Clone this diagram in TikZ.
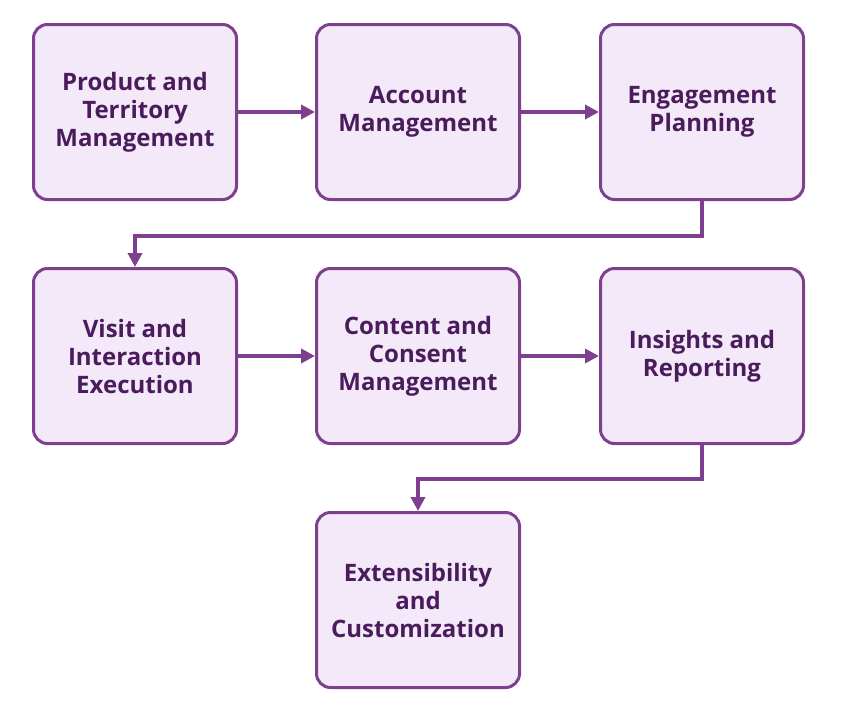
\documentclass[tikz,border=0pt]{standalone}
\usepackage{fontspec}
\setmainfont{Open Sans}
\usetikzlibrary{arrows.meta}
\definecolor{bord}{HTML}{7E3F8F}
\definecolor{fillc}{HTML}{F4E9F8}
\definecolor{txt}{HTML}{4B1C5C}
\begin{document}
\begin{tikzpicture}[x=1pt,y=-1pt,
 box/.style={draw=bord,line width=3pt,fill=fillc,rounded corners=14pt,minimum width=203pt,minimum height=175pt,align=center,text=txt,font=\fontsize{24}{28}\selectfont\bfseries},
 arr/.style={draw=bord,line width=4pt,-{Triangle[length=14pt,width=14pt]}}]
\useasboundingbox (0,0) rectangle (843,707);
\node[box] (a) at (135,112) {Product and\\Territory\\Management};
\node[box] (b) at (418,112) {Account\\Management};
\node[box] (c) at (702,112) {Engagement\\Planning};
\node[box] (d) at (135,356) {Visit and\\Interaction\\Execution};
\node[box] (e) at (418,356) {Content and\\Consent\\Management};
\node[box] (f) at (702,356) {Insights and\\Reporting};
\node[box] (g) at (418,600) {Extensibility\\and\\Customization};
\draw[arr] (a) -- (b);
\draw[arr] (b) -- (c);
\draw[arr] (d) -- (e);
\draw[arr] (e) -- (f);
\draw[arr] (c.south) -- ++(0,35) -| (d.north);
\draw[arr] (f.south) -- ++(0,34) -| (g.north);
\end{tikzpicture}
\end{document}
